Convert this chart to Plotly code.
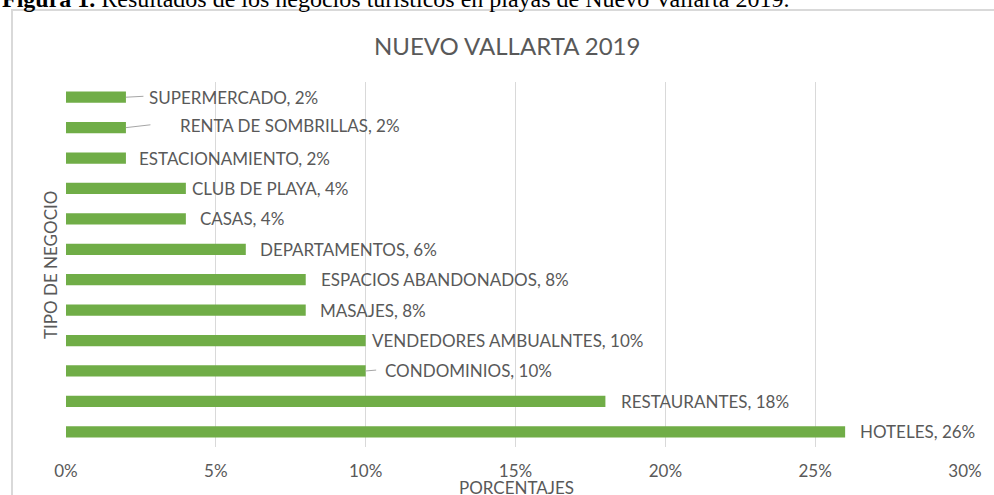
import plotly.graph_objects as go

# datos de la figura (de abajo hacia arriba)
negocios = ["HOTELES", "RESTAURANTES", "CONDOMINIOS", "VENDEDORES AMBUALNTES",
            "MASAJES", "ESPACIOS ABANDONADOS", "DEPARTAMENTOS", "CASAS",
            "CLUB DE PLAYA", "ESTACIONAMIENTO", "RENTA DE SOMBRILLAS", "SUPERMERCADO"]
porcentajes = [26, 18, 10, 10, 8, 8, 6, 4, 4, 2, 2, 2]
ticks_x = [0, 5, 10, 15, 20, 25, 30]

# desplazamiento de las etiquetas (px), como quedaron movidas en Excel
label_dx = [13, 14, 17, 4, 12, 13, 12, 12, 4, 11, 52, 21]
label_dy = [0, 0, 0, 0, 0, 0, 0, 0, 0, 0, 2, 0]
leader_dx = {2: 12, 10: 26, 11: 19}

W, H = 994, 495
ml, mr, mt, mb = 66, 29, 82, 48
pw, ph = W - ml - mr, H - mt - mb
gris = "#595959"
fuente = "Lato"

fig = go.Figure(go.Bar(
    x=porcentajes, y=negocios, orientation="h",
    marker=dict(color="#70AD47", line=dict(width=0)),
    hoverinfo="x+y",
))

anns = []
for i, (n, v) in enumerate(zip(negocios, porcentajes)):
    anns.append(dict(x=v, y=n, xref="x", yref="y", text=f"{n}, {v}%",
                     showarrow=False, xanchor="left", yanchor="middle",
                     xshift=label_dx[i], yshift=label_dy[i],
                     font=dict(family=fuente, size=17, color=gris)))
    if i in leader_dx:
        anns.append(dict(x=v, y=n, xref="x", yref="y", text=" ",
                         showarrow=True, arrowhead=0, arrowwidth=1,
                         arrowcolor="#A6A6A6", ax=leader_dx[i],
                         ay=-3 if i == 10 else -1,
                         font=dict(size=1)))

# títulos
anns.append(dict(x=(507 - ml) / pw, y=1 + (mt - 45) / ph, xref="paper", yref="paper",
                 text="NUEVO VALLARTA 2019", showarrow=False,
                 xanchor="center", yanchor="middle",
                 font=dict(family=fuente, size=24, color=gris)))
anns.append(dict(x=(516 - ml) / pw, y=-(487 - mt - ph) / ph, xref="paper", yref="paper",
                 text="PORCENTAJES", showarrow=False,
                 xanchor="center", yanchor="middle",
                 font=dict(family=fuente, size=17, color=gris)))
anns.append(dict(x=-(ml - 50) / pw, y=1 - (265 - mt) / ph, xref="paper", yref="paper",
                 text="TIPO DE NEGOCIO", showarrow=False, textangle=-90,
                 xanchor="center", yanchor="middle",
                 font=dict(family=fuente, size=17, color=gris)))
# pie de figura (cortado arriba)
anns.append(dict(x=-ml / pw, y=1 + (mt - 14) / ph, xref="paper", yref="paper",
                 text="<b>Figura 1.</b> Resultados de los negocios turísticos en playas de Nuevo Vallarta 2019.",
                 showarrow=False, xanchor="left", yanchor="bottom",
                 font=dict(family="Liberation Serif", size=24, color="black")))

fig.update_layout(
    width=W, height=H,
    margin=dict(l=ml, r=mr, t=mt, b=mb),
    paper_bgcolor="white", plot_bgcolor="white",
    showlegend=False, bargap=0.63,
    annotations=anns,
    shapes=[dict(type="rect", xref="paper", yref="paper",
                 x0=-(ml - 12) / pw, x1=1 + (mr + 5) / pw,
                 y0=-(mb + 5) / ph, y1=1 + (mt - 10) / ph,
                 line=dict(color="#D9D9D9", width=2), layer="below")],
)
fig.update_xaxes(range=[0, 30], tickvals=ticks_x,
                 ticktext=[f"{t}%" for t in ticks_x],
                 showgrid=True, gridcolor="#D9D9D9", gridwidth=1,
                 zeroline=False, showline=False, ticks="",
                 ticklabelstandoff=12,
                 tickfont=dict(family=fuente, size=17, color=gris))
fig.update_yaxes(categoryorder="array", categoryarray=negocios,
                 showticklabels=False, showgrid=False, zeroline=False,
                 showline=False, ticks="")

fig.write_html("out.html", config={"displayModeBar": False},
               post_script="document.body.style.margin='0';")
